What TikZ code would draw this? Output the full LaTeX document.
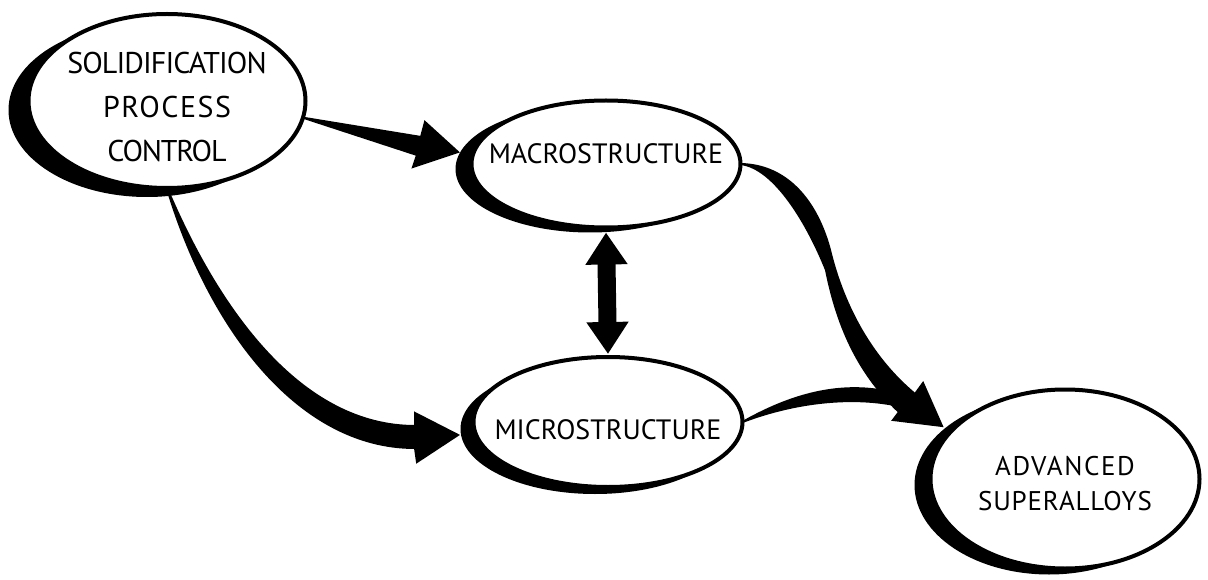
\documentclass[tikz,border=0pt]{standalone}
\usepackage{fontspec}
\setmainfont{PT Sans}
\usetikzlibrary{shapes.geometric,shadows,backgrounds,arrows.meta}

\newcommand{\spaced}[2]{{\addfontfeature{LetterSpace=#1}#2}}

\tikzset{
  blob/.style={ellipse, draw, line width=4pt, fill=white, inner sep=0pt, outer sep=0pt},
  dark/.style 2 args={drop shadow={shadow xshift=#1, shadow yshift=#2, opacity=1, fill=black}},
  lbl/.style={align=center, inner sep=0pt},
  taper/.style={fill=black, draw=black, line width=2pt, line join=miter},
}

\begin{document}
\begin{tikzpicture}[x=1pt,y=-1pt]
	\useasboundingbox (0,0) rectangle (1208,580);

	% the four boxes, each with a dark crescent on its left
	\node[blob, dark={-20pt}{-9pt}, minimum width=277pt, minimum height=174pt,
		label={[lbl, font=\fontsize{30}{44}\selectfont, yshift=-6pt]center:\spaced{-3}{SOLIDIFICATION}\\\spaced{5}{PROCESS}\\\spaced{-4}{CONTROL}}]
		(solid) at (167,101) {};
	\node[blob, dark={-16pt}{-5pt}, minimum width=269pt, minimum height=127pt,
		label={[lbl, font=\fontsize{28}{40}\selectfont, yshift=10pt]center:MACROSTRUCTURE}]
		(macro) at (606,164) {};
	\node[blob, dark={-13pt}{-7pt}, minimum width=269pt, minimum height=130pt,
		label={[lbl, font=\fontsize{28}{40}\selectfont, yshift=-8pt]center:MICROSTRUCTURE}]
		(micro) at (608,422) {};
	\node[blob, dark={-16pt}{-6pt}, minimum width=269pt, minimum height=179pt,
		label={[lbl, font=\fontsize{27}{35}\selectfont, yshift=-5pt]center:\spaced{6}{ADVANCED}\\\spaced{3}{SUPERALLOYS}}]
		(alloy) at (1065,479) {};

	\begin{scope}[on background layer]
		% solidification -> macrostructure
		\filldraw[taper] (solid.-7) -- (421,137) -- (425,122) -- (458,152)
			-- (413,167) -- (417,155) -- cycle;
		% solidification -> microstructure
		\filldraw[taper] (solid.south) .. controls (222,318) and (305,426) .. (415,426)
			-- (415,413) -- (458,435) -- (417,462) -- (415,448)
			.. controls (295,448) and (207,322) .. (solid.south) -- cycle;
		% macrostructure -> superalloys (carries the common head)
		\filldraw[taper] (macro.east) .. controls (790,165) and (818,205) .. (830,250)
			.. controls (842,300) and (868,355) .. (915,394)
			-- (923,383) -- (942,426) -- (893,420) -- (899,412)
			.. controls (860,375) and (838,330) .. (826,270)
			.. controls (808,225) and (775,168) .. (macro.east) -- cycle;
		% microstructure -> superalloys
		\filldraw[taper] (micro.east) .. controls (785,398) and (835,380) .. (890,392)
			-- (903,407) .. controls (860,396) and (800,400) .. (micro.east) -- cycle;
	\end{scope}

	% macro <-> micro
	\draw[line width=18pt, {Triangle[width=40pt,length=32pt]}-{Triangle[width=40pt,length=32pt]}]
		([yshift=-5pt]macro.south) -- ([yshift=3pt]micro.north);
\end{tikzpicture}
\end{document}
